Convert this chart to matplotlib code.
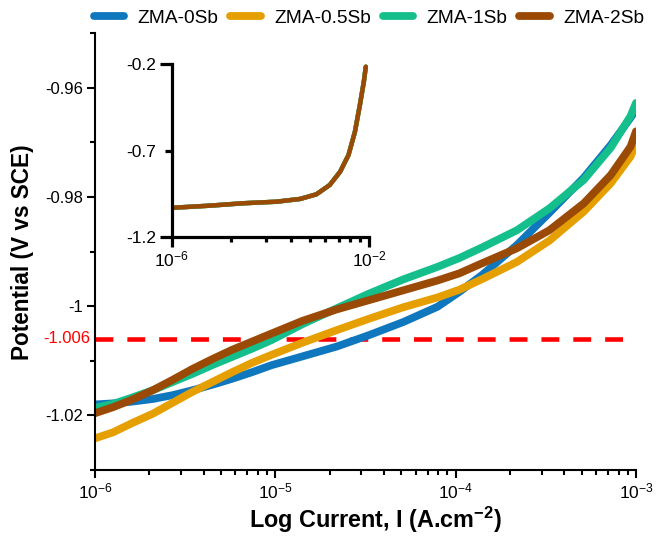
import numpy as np
import matplotlib
matplotlib.use("Agg")
import matplotlib.pyplot as plt
from matplotlib.ticker import FixedLocator, NullFormatter, LogLocator
from matplotlib.transforms import blended_transform_factory

plt.rcParams['font.family'] = ['Liberation Sans', 'DejaVu Sans']
plt.rcParams['mathtext.fontset'] = 'custom'
plt.rcParams['mathtext.rm'] = 'Liberation Sans'
plt.rcParams['mathtext.bf'] = 'Liberation Sans:bold'
plt.rcParams['mathtext.default'] = 'regular'

# данные
log_i = [-6.0, -5.9, -5.8, -5.68, -5.57, -5.46, -5.35, -5.24, -5.13, -5.02, -4.85, -4.66,
         -4.48, -4.29, -4.1, -3.98, -3.85, -3.66, -3.48, -3.29, -3.14, -3.03, -3.0]

e_0sb = [-1.0180, -1.0178, -1.0175, -1.0170, -1.0163, -1.0154, -1.0144, -1.0133, -1.0121, -1.0108,
         -1.0092, -1.0074, -1.0053, -1.0029, -1.0001, -0.9974, -0.9942, -0.9888, -0.9829, -0.9765,
         -0.9705, -0.9655, -0.9640]
e_05sb = [-1.0242, -1.0231, -1.0215, -1.0197, -1.0177, -1.0157, -1.0139, -1.0121, -1.0104, -1.0089,
          -1.0067, -1.0044, -1.0023, -1.0002, -0.9984, -0.9970, -0.9950, -0.9919, -0.9880, -0.9827,
          -0.9775, -0.9726, -0.9703]
e_1sb = [-1.0186, -1.0179, -1.0168, -1.0154, -1.0139, -1.0124, -1.0108, -1.0093, -1.0078, -1.0062,
         -1.0033, -1.0004, -0.9977, -0.9951, -0.9928, -0.9912, -0.9892, -0.9861, -0.9821, -0.9769,
         -0.9710, -0.9652, -0.9628]
e_2sb = [-1.0196, -1.0185, -1.0172, -1.0154, -1.0135, -1.0115, -1.0097, -1.0080, -1.0065, -1.0050,
         -1.0027, -1.0006, -0.9989, -0.9971, -0.9953, -0.9940, -0.9921, -0.9894, -0.9861, -0.9812,
         -0.9760, -0.9708, -0.9680]

names = ['ZMA-0Sb', 'ZMA-0.5Sb', 'ZMA-1Sb', 'ZMA-2Sb']
colors = ['#0F77BE', '#E69F00', '#14BF8B', '#9A4A05']

ecorr = -1.006

# вставка: полная кривая
inset_log_i = [-5.97, -5.23, -4.55, -3.88, -3.40, -3.07, -2.80, -2.59, -2.42, -2.29, -2.19, -2.11, -2.07]
inset_e = [-1.032, -1.020, -1.006, -0.997, -0.981, -0.954, -0.900, -0.823, -0.726, -0.591, -0.436, -0.301, -0.214]

current = 10 ** np.array(log_i)
inset_current = 10 ** np.array(inset_log_i)

fig = plt.figure(figsize=(6.56, 5.36), dpi=100)
ax = fig.add_axes([0.1448, 0.1231, 0.8247, 0.8153])

for e, name, c in zip([e_0sb, e_05sb, e_1sb, e_2sb], names, colors):
    ax.plot(current, e, color=c, lw=5.6, label=name,
            solid_capstyle='round', solid_joinstyle='round')

ax.axhline(ecorr, color='red', lw=3.3, dashes=(3.9, 3.05), zorder=1)

ax.set_xscale('log')
ax.set_xlim(1e-6, 1e-3)
ax.set_ylim(-1.03, -0.95)
ax.set_yticks([-1.02, -1.0, -0.98, -0.96])
ax.set_yticklabels(['-1.02', '-1', '-0.98', '-0.96'])
ax.yaxis.set_minor_locator(FixedLocator([-1.03, -1.01, -0.99, -0.97, -0.95]))
ax.xaxis.set_minor_locator(LogLocator(base=10, subs=np.arange(2, 10)))
ax.xaxis.set_minor_formatter(NullFormatter())

for s in ['top', 'right']:
    ax.spines[s].set_visible(False)
for s in ['left', 'bottom']:
    ax.spines[s].set_linewidth(1.5)
ax.tick_params(which='major', direction='out', length=5.5, width=1.5, labelsize=12, pad=3)
ax.tick_params(which='minor', direction='out', length=3.5, width=1.5)
ax.tick_params(axis='x', which='major', labelsize=12.5)

# подпись -1.006 красным
tr = blended_transform_factory(ax.transAxes, ax.transData)
ax.text(-0.009, ecorr, '-1.006', color='red', fontsize=12, ha='right', va='center', transform=tr)

fig.text(0.034, 0.53, 'Potential (V vs SCE)', rotation=90, ha='center', va='center',
         fontsize=16.3, fontweight='bold')
fig.text(0.572, 0.03, r'Log Current, I (A.cm$\mathbf{^{-2}}$)', ha='center', va='center',
         fontsize=16.8, fontweight='bold')

fig.legend(loc='center', bbox_to_anchor=(0.5625, 0.966), ncol=4, frameon=False,
           fontsize=13.8, handlelength=1.6, handletextpad=0.7, columnspacing=0.6)

# вставка
ins = fig.add_axes([0.2617, 0.5584, 0.3012, 0.3216])
for c in colors:
    ins.plot(inset_current, inset_e, color=c, lw=3.2, solid_capstyle='round',
             solid_joinstyle='round')
ins.set_xscale('log')
ins.set_xlim(1e-6, 1e-2)
ins.set_ylim(-1.2, -0.2)
ins.xaxis.set_major_locator(FixedLocator([1e-6, 1e-2]))
ins.xaxis.set_minor_locator(FixedLocator([1e-6 * k ** 4 for k in range(2, 10)]))
ins.xaxis.set_minor_formatter(NullFormatter())
ins.set_xticklabels([r'$10^{-6}$', r'$10^{-2}$'])
ins.set_yticks([-1.2, -0.7, -0.2])
ins.set_yticklabels(['-1.2', '-0.7', '-0.2'])
for s in ['top', 'right']:
    ins.spines[s].set_visible(False)
for s in ['left', 'bottom']:
    ins.spines[s].set_linewidth(2.3)
ins.tick_params(which='major', direction='out', width=2.3, labelsize=12.5, pad=2)
ins.tick_params(axis='y', which='major', length=9)
ins.tick_params(axis='x', which='major', length=7)
ins.tick_params(which='minor', direction='out', length=3.6, width=2.3)
ins.yaxis.get_major_ticks()[1].tick1line.set_markersize(5)

fig.savefig('out.png', dpi=100)
